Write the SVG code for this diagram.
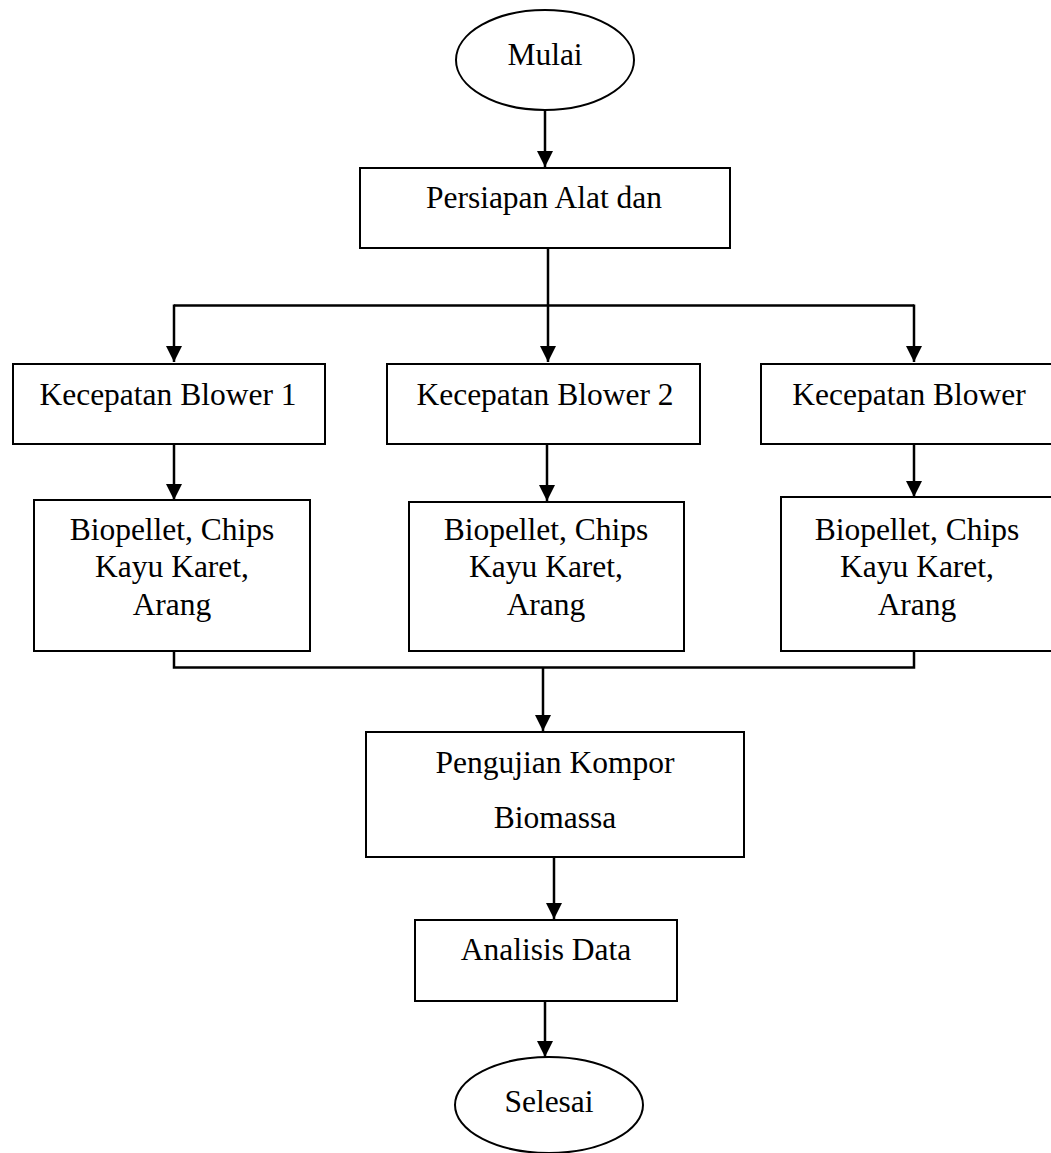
<svg xmlns="http://www.w3.org/2000/svg" width="1051" height="1153" viewBox="0 0 1051 1153">
<style>
.box{fill:#fff;stroke:#000;stroke-width:2}
.t{font-family:"Liberation Serif","Times New Roman",serif;font-size:31.5px;fill:#000;text-anchor:middle}
.c{fill:none;stroke:#000;stroke-width:2.5}
</style>
<defs>
<marker id="ahd" markerUnits="userSpaceOnUse" markerWidth="16" markerHeight="16" viewBox="-8 -16 16 16" refX="0" refY="0" orient="0">
<path d="M-8,-16 L8,-16 L0,0 Z" fill="#000"/>
</marker>
</defs>
<g id="connectors">
<path class="c" d="M545,110 V167" marker-end="url(#ahd)"/>
<path class="c" d="M548,248 V362" marker-end="url(#ahd)"/>
<path class="c" d="M174,305.5 H914"/>
<path class="c" d="M174,304.5 V362" marker-end="url(#ahd)"/>
<path class="c" d="M914,304.5 V362" marker-end="url(#ahd)"/>
<path class="c" d="M174,445 V500" marker-end="url(#ahd)"/>
<path class="c" d="M547,445 V501" marker-end="url(#ahd)"/>
<path class="c" d="M914,445 V497" marker-end="url(#ahd)"/>
<path class="c" d="M174,652 V667.5 H914 V652"/>
<path class="c" d="M543,667.5 V731" marker-end="url(#ahd)"/>
<path class="c" d="M554,858 V919" marker-end="url(#ahd)"/>
<path class="c" d="M545,1002 V1057" marker-end="url(#ahd)"/>
</g>
<g id="mulai">
<ellipse class="box" cx="545" cy="60" rx="89" ry="50"/>
<text class="t" x="545" y="65">Mulai</text>
</g>
<g id="persiapan">
<rect class="box" x="360" y="168" width="370" height="80"/>
<text class="t" x="544" y="208">Persiapan Alat dan</text>
</g>
<g id="blower1">
<rect class="box" x="13" y="364" width="312" height="80"/>
<text class="t" x="168" y="405">Kecepatan Blower 1</text>
</g>
<g id="blower2">
<rect class="box" x="387" y="364" width="313" height="80"/>
<text class="t" x="545" y="405">Kecepatan Blower 2</text>
</g>
<g id="blower3">
<rect class="box" x="761" y="364" width="300" height="80"/>
<text class="t" x="909" y="405">Kecepatan Blower</text>
</g>
<g id="bahan1">
<rect class="box" x="34" y="500" width="276" height="151"/>
<text class="t" x="172" y="540">Biopellet, Chips</text>
<text class="t" x="172" y="577">Kayu Karet,</text>
<text class="t" x="172" y="615">Arang</text>
</g>
<g id="bahan2">
<rect class="box" x="409" y="502" width="275" height="149"/>
<text class="t" x="546" y="540">Biopellet, Chips</text>
<text class="t" x="546" y="577">Kayu Karet,</text>
<text class="t" x="546" y="615">Arang</text>
</g>
<g id="bahan3">
<rect class="box" x="781" y="497" width="280" height="154"/>
<text class="t" x="917" y="540">Biopellet, Chips</text>
<text class="t" x="917" y="577">Kayu Karet,</text>
<text class="t" x="917" y="615">Arang</text>
</g>
<g id="pengujian">
<rect class="box" x="366" y="732" width="378" height="125"/>
<text class="t" x="555" y="773">Pengujian Kompor</text>
<text class="t" x="555" y="828">Biomassa</text>
</g>
<g id="analisis">
<rect class="box" x="415" y="920" width="262" height="81"/>
<text class="t" x="546" y="960">Analisis Data</text>
</g>
<g id="selesai">
<ellipse class="box" cx="549" cy="1105" rx="94" ry="48"/>
<text class="t" x="549" y="1112">Selesai</text>
</g>
</svg>
